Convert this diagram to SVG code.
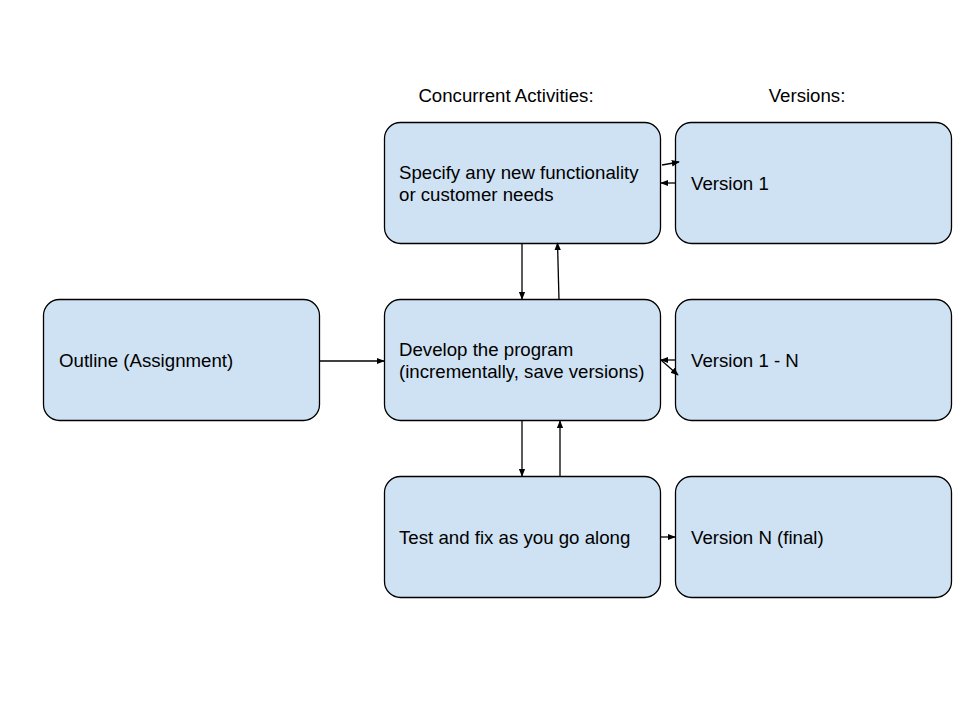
<svg xmlns="http://www.w3.org/2000/svg" width="960" height="720" viewBox="0 0 960 720">
<style>
.box{fill:#cfe2f3;stroke:#000;stroke-width:1.3}
.t{font-family:"Liberation Sans",Arial,sans-serif;font-size:18.67px;fill:#000}
.c{stroke:#000;stroke-width:1.3;fill:none;marker-end:url(#ah)}
</style>
<defs>
<marker id="ah" viewBox="0 0 10 10" refX="9" refY="5" markerWidth="8" markerHeight="8" markerUnits="userSpaceOnUse" orient="auto">
<path d="M0,1 L10,5 L0,9 Z" fill="#000"/>
</marker>
</defs>
<rect width="960" height="720" fill="#fff"/>
<text class="t" x="506" y="102" text-anchor="middle">Concurrent Activities:</text>
<text class="t" x="807" y="102" text-anchor="middle">Versions:</text>
<g id="outline"><rect class="box" x="43.5" y="299.5" width="276" height="121" rx="16"/><text class="t" x="59" y="367">Outline (Assignment)</text></g>
<g id="specify"><rect class="box" x="384.5" y="122.5" width="276" height="121" rx="16"/><text class="t" x="399" y="179">Specify any new functionality</text><text class="t" x="399" y="201">or customer needs</text></g>
<g id="develop"><rect class="box" x="384.5" y="299.5" width="276" height="121" rx="16"/><text class="t" x="399" y="356">Develop the program</text><text class="t" x="399" y="378">(incrementally, save versions)</text></g>
<g id="test"><rect class="box" x="384.5" y="476.5" width="276" height="121" rx="16"/><text class="t" x="399" y="544">Test and fix as you go along</text></g>
<g id="v1"><rect class="box" x="675.5" y="122.5" width="276" height="121" rx="16"/><text class="t" x="691" y="190">Version 1</text></g>
<g id="v1n"><rect class="box" x="675.5" y="299.5" width="276" height="121" rx="16"/><text class="t" x="691" y="367">Version 1 - N</text></g>
<g id="vn"><rect class="box" x="675.5" y="476.5" width="276" height="121" rx="16"/><text class="t" x="691" y="544">Version N (final)</text></g>
<g id="connectors">
<line class="c" x1="319.5" y1="361" x2="384" y2="361"/>
<line class="c" x1="662" y1="165" x2="679" y2="162"/>
<line class="c" x1="675" y1="183" x2="661" y2="183"/>
<line class="c" x1="522" y1="244" x2="522" y2="299"/>
<line class="c" x1="559" y1="300" x2="557.5" y2="243"/>
<line class="c" x1="675" y1="360" x2="661" y2="360"/>
<line class="c" x1="661" y1="360" x2="678" y2="375"/>
<line class="c" x1="522" y1="421" x2="522" y2="476"/>
<line class="c" x1="560" y1="476" x2="560" y2="421"/>
<line class="c" x1="661" y1="537" x2="675" y2="537"/>
</g>
</svg>
